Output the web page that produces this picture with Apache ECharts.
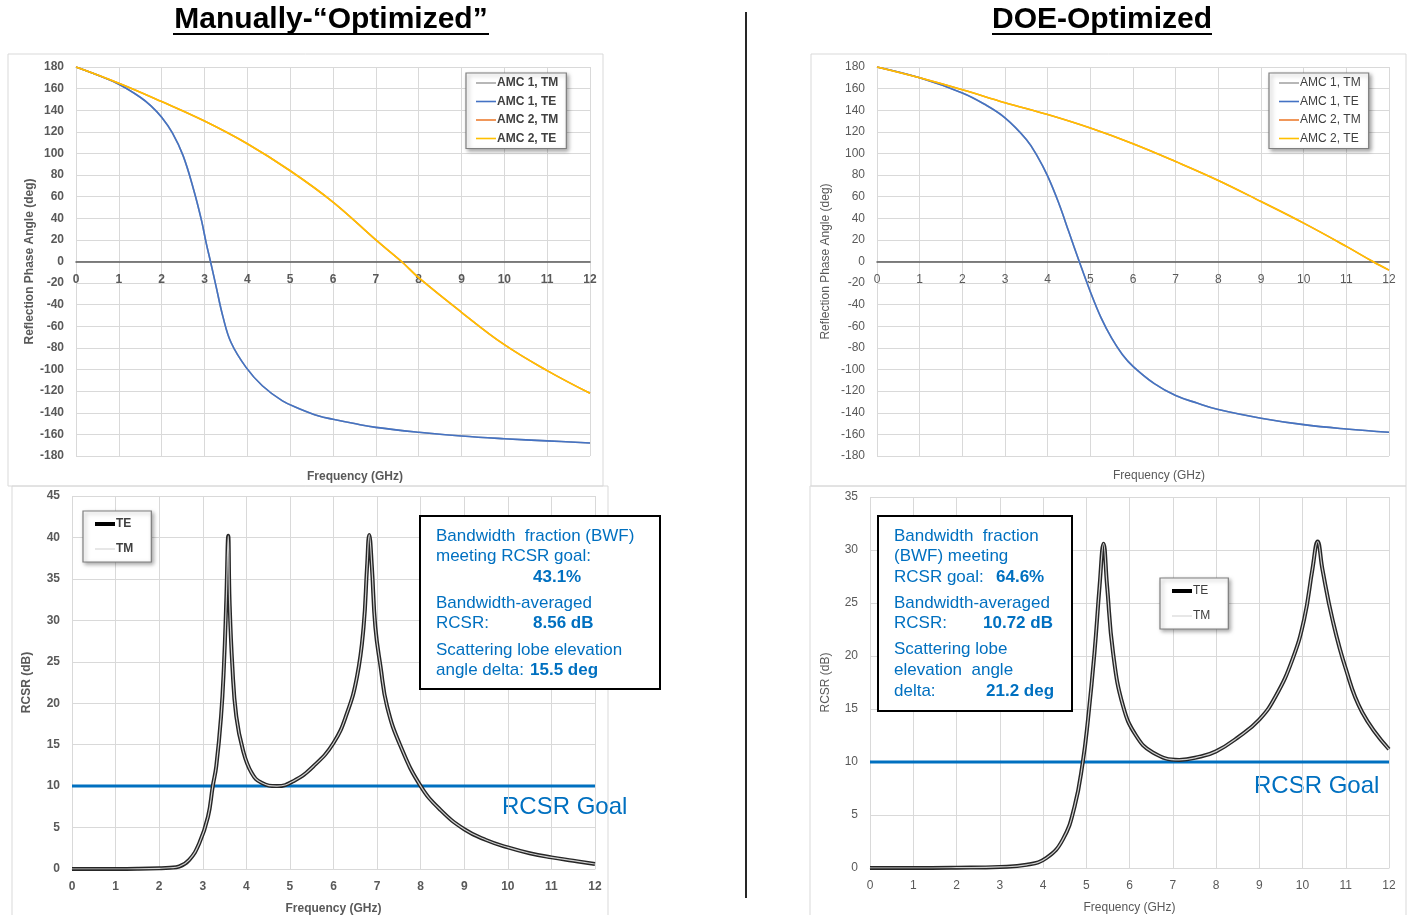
<!DOCTYPE html>
<html>
<head>
<meta charset="utf-8">
<script src="https://cdn.jsdelivr.net/npm/echarts@6/dist/echarts.min.js"></script>
<style>
  html, body { margin: 0; padding: 0; background: #fff; }
  #chart { width: 1414px; height: 915px; }
</style>
</head>
<body>
<div id="chart"></div>
<script>
// Reflection phase (deg) vs frequency (GHz)
const amc1ManualPhase = [[0,180],[0.5,172.5],[1,164],[1.5,152],[1.75,144],[2,133.5],[2.25,119],[2.5,98],[2.75,66],[2.93,38],[3.04,17],[3.14,0],[3.27,-23],[3.43,-51],[3.62,-75],[3.97,-98],[4.35,-115],[4.82,-129],[5.2,-136],[5.67,-143],[6,-146],[6.5,-150],[7,-153.5],[8,-158],[9,-161.5],[10,-164],[11,-166],[12,-168]];
const amc2ManualPhase = [[0,180],[1,165],[2,148],[3,130],[4,109],[5,84],[6,55],[7,20],[7.6,0],[8,-15],[9,-47],[10,-77],[11,-101],[12,-122]];
const amc1DoePhase = [[0,180],[1,170],[2,156],[2.5,146],[3,133],[3.5,113],[3.75,98],[4,79],[4.25,55],[4.5,27],[4.74,0],[5,-28],[5.25,-52],[5.5,-71],[5.75,-86],[6,-97],[6.5,-113],[7,-124],[7.5,-131],[8,-137],[9,-145],[10,-151],[11,-155],[12,-158]];
const amc2DoePhase = [[0,180],[1,170],[2,159],[3,147],[4,136],[5,123.5],[6,109],[7,92.5],[8,75],[9,55.5],[10,35.5],[11,14],[11.62,0],[12,-8]];

// RCSR (dB) vs frequency (GHz)
const rcsrManual = [[0,0],[1,0],[1.5,0.02],[2,0.08],[2.25,0.15],[2.46,0.3],[2.69,1.1],[2.92,3.1],[3.12,6.3],[3.23,10],[3.31,12.4],[3.42,18.4],[3.485,24.4],[3.54,32.4],[3.585,40.2],[3.615,32.4],[3.68,24.4],[3.77,18.4],[3.92,14.4],[4.12,11.6],[4.35,10.4],[4.7,10.0],[5.08,10.6],[5.54,12.4],[6.0,15.2],[6.31,18.8],[6.54,23.2],[6.69,29.2],[6.77,36.5],[6.82,40.3],[6.88,36.5],[6.96,29.2],[7.08,24.4],[7.23,19.6],[7.54,14.8],[8.0,10],[8.46,7.1],[9,4.8],[9.5,3.5],[10,2.6],[10.5,1.9],[11,1.4],[11.5,1.0],[12,0.6]];
const rcsrDoe = [[0,0],[1,0],[2,0.03],[3,0.1],[3.62,0.3],[4.08,0.95],[4.46,2.7],[4.73,5.8],[4.92,10],[5.04,14],[5.19,20.3],[5.31,26.7],[5.4,30.6],[5.48,26.7],[5.62,20.3],[5.85,15.3],[6.15,12.5],[6.54,10.9],[7.15,10.2],[7.62,10.5],[8,11],[8.5,12.3],[9,14],[9.38,16.2],[9.77,19.7],[10.04,23.5],[10.23,28.2],[10.35,30.8],[10.46,28.2],[10.69,23.5],[11,18.8],[11.38,14.7],[12,11.2]];
const rcsrGoal = 10;

const phaseNames = ['AMC 1, TM', 'AMC 1, TE', 'AMC 2, TM', 'AMC 2, TE'];
const phaseColors = ['#A5A5A5', '#4472C4', '#ED7D31', '#FFC000'];
const modeNames = ['TE', 'TM'];

const FONT = 'Liberation Sans, Arial, sans-serif';
const GRAY = '#595959';
const GRID = '#d9d9d9';
const BLUE = '#0070C0';

const chart = echarts.init(document.getElementById('chart'));

function xAxisCfg(grid, bold, opts) {
    return Object.assign({
        type: 'value', gridIndex: grid, min: 0, max: 12, interval: 1,
        axisTick: { show: false },
        axisLine: { onZero: false, lineStyle: { color: GRAY, width: 1.5 } },
        axisLabel: { margin: 12, color: GRAY, fontSize: 12, fontWeight: bold ? 'bold' : 'normal', fontFamily: FONT },
        splitLine: { show: true, lineStyle: { color: GRID, width: 1 } },
        nameTextStyle: { color: GRAY, fontSize: 12, fontWeight: bold ? 'bold' : 'normal', fontFamily: FONT }
    }, opts);
}
function yAxisCfg(grid, bold, opts) {
    return Object.assign({
        type: 'value', gridIndex: grid,
        axisTick: { show: false },
        axisLine: { show: false },
        axisLabel: { margin: 12, color: GRAY, fontSize: 12, fontWeight: bold ? 'bold' : 'normal', fontFamily: FONT },
        splitLine: { show: true, lineStyle: { color: GRID, width: 1 } },
        nameLocation: 'middle',
        nameTextStyle: { color: GRAY, fontSize: 12, fontWeight: bold ? 'bold' : 'normal', fontFamily: FONT }
    }, opts);
}

const series = [];
function phaseSeries(grid, amc1, amc2) {
    [amc1, amc1, amc2, amc2].forEach((d, i) => {
        series.push({
            name: phaseNames[i], type: 'line', xAxisIndex: grid, yAxisIndex: grid,
            data: d, symbol: 'none', smooth: 0.4, silent: true,
            lineStyle: { color: phaseColors[i], width: 1.6 }, itemStyle: { color: phaseColors[i] }
        });
    });
}
function rcsrSeries(grid, d) {
    series.push({
        name: 'goal', type: 'line', xAxisIndex: grid, yAxisIndex: grid,
        data: [[0, rcsrGoal], [12, rcsrGoal]], symbol: 'none', silent: true,
        lineStyle: { color: BLUE, width: 3 }
    });
    series.push({
        name: 'TE', type: 'line', xAxisIndex: grid, yAxisIndex: grid,
        data: d, symbol: 'none', smooth: 0.45, silent: true,
        lineStyle: { color: '#262626', width: 4 }, itemStyle: { color: '#000' }
    });
    series.push({
        name: 'TM', type: 'line', xAxisIndex: grid, yAxisIndex: grid,
        data: d, symbol: 'none', smooth: 0.45, silent: true,
        lineStyle: { color: '#cfcfcf', width: 1.2 }, itemStyle: { color: '#cfcfcf' }
    });
}
phaseSeries(0, amc1ManualPhase, amc2ManualPhase);
phaseSeries(1, amc1DoePhase, amc2DoePhase);
rcsrSeries(2, rcsrManual);
rcsrSeries(3, rcsrDoe);

const thinIcon = 'path://M0,0 H20 V1.6 H0 Z';
const phaseLegendData = phaseNames.map(n => ({ name: n, icon: thinIcon }));
const modeLegendData = [
    { name: 'TE', icon: 'path://M0,0 H20 V4 H0 Z' },
    { name: 'TM', icon: 'path://M0,0 H20 V1 H0 Z' }
];

function legendCfg(left, top, data, bold, gap, pad) {
    return {
        left: left, top: top, orient: 'vertical', data: data, selectedMode: false,
        itemWidth: 20, itemHeight: 12, itemGap: gap, padding: pad,
        backgroundColor: '#fff', borderColor: '#7f7f7f', borderWidth: 1.2,
        shadowColor: 'rgba(0,0,0,0.35)', shadowBlur: 4, shadowOffsetX: 2, shadowOffsetY: 2,
        textStyle: { color: '#404040', fontSize: 12, fontWeight: bold ? 'bold' : 'normal', fontFamily: FONT, padding: [0, 0, 0, -4] }
    };
}

function txt(x, y, s, opts) {
    return { type: 'text', x: x, y: y, silent: true,
        style: Object.assign({ text: s, fill: BLUE, font: '17px ' + FONT, verticalAlign: 'middle', align: 'left' }, opts || {}) };
}
const boldInfo = { font: 'bold 17px ' + FONT };

const graphic = [
    // panel frames
    { type: 'rect', shape: { x: 8, y: 54, width: 595, height: 432 }, style: { fill: 'none', stroke: GRID, lineWidth: 1 }, silent: true, z: -1 },
    { type: 'rect', shape: { x: 12, y: 486, width: 596, height: 432 }, style: { fill: 'none', stroke: GRID, lineWidth: 1 }, silent: true, z: -1 },
    { type: 'rect', shape: { x: 811, y: 54, width: 595, height: 432 }, style: { fill: 'none', stroke: GRID, lineWidth: 1 }, silent: true, z: -1 },
    { type: 'rect', shape: { x: 810, y: 486, width: 596, height: 432 }, style: { fill: 'none', stroke: GRID, lineWidth: 1 }, silent: true, z: -1 },
    // divider
    { type: 'line', shape: { x1: 746, y1: 12, x2: 746, y2: 898 }, style: { stroke: '#262626', lineWidth: 2 }, silent: true },
    // titles
    { type: 'text', x: 331, y: 20, silent: true, style: { text: 'Manually-\u201cOptimized\u201d', font: 'bold 30px ' + FONT, fill: '#000', align: 'center', verticalAlign: 'middle' } },
    { type: 'line', shape: { x1: 173, y1: 34, x2: 489, y2: 34 }, style: { stroke: '#000', lineWidth: 2 }, silent: true },
    { type: 'text', x: 1102, y: 20, silent: true, style: { text: 'DOE-Optimized', font: 'bold 30px ' + FONT, fill: '#000', align: 'center', verticalAlign: 'middle' } },
    { type: 'line', shape: { x1: 992, y1: 34, x2: 1212, y2: 34 }, style: { stroke: '#000', lineWidth: 2 }, silent: true },
    // top x axis titles
    { type: 'text', x: 355, y: 477, silent: true, style: { text: 'Frequency (GHz)', font: 'bold 12px ' + FONT, fill: GRAY, align: 'center', verticalAlign: 'middle' } },
    { type: 'text', x: 1159, y: 476, silent: true, style: { text: 'Frequency (GHz)', font: '12px ' + FONT, fill: GRAY, align: 'center', verticalAlign: 'middle' } },
    // info boxes
    { type: 'rect', shape: { x: 420, y: 516, width: 240, height: 173 }, style: { fill: '#fff', stroke: '#000', lineWidth: 2 }, silent: true, z: 10 },
    { type: 'rect', shape: { x: 878, y: 516, width: 194, height: 195 }, style: { fill: '#fff', stroke: '#000', lineWidth: 2 }, silent: true, z: 10 },
    // goal labels
    txt(502, 807, 'RCSR Goal', { font: '24px ' + FONT }),
    txt(1254, 786, 'RCSR Goal', { font: '24px ' + FONT })
];
const infoLines = [
    txt(436, 536, 'Bandwidth  fraction (BWF)'),
    txt(436, 556, 'meeting RCSR goal:'),
    txt(533, 577, '43.1%', boldInfo),
    txt(436, 603, 'Bandwidth-averaged'),
    txt(436, 623, 'RCSR:'),
    txt(533, 623, '8.56 dB', boldInfo),
    txt(436, 650, 'Scattering lobe elevation'),
    txt(436, 670, 'angle delta:'),
    txt(530, 670, '15.5 deg', boldInfo),
    txt(894, 536, 'Bandwidth  fraction'),
    txt(894, 556, '(BWF) meeting'),
    txt(894, 577, 'RCSR goal:'),
    txt(996, 577, '64.6%', boldInfo),
    txt(894, 603, 'Bandwidth-averaged'),
    txt(894, 623, 'RCSR:'),
    txt(983, 623, '10.72 dB', boldInfo),
    txt(894, 649, 'Scattering lobe'),
    txt(894, 670, 'elevation  angle'),
    txt(894, 691, 'delta:'),
    txt(986, 691, '21.2 deg', boldInfo)
];
infoLines.forEach(g => { g.z = 11; graphic.push(g); });

chart.setOption({
    animation: false,
    textStyle: { fontFamily: FONT },
    grid: [
        { left: 76, top: 67, width: 514, height: 389, outerBoundsMode: 'none' },
        { left: 877, top: 67, width: 512, height: 389, outerBoundsMode: 'none' },
        { left: 72, top: 496, width: 523, height: 373, outerBoundsMode: 'none' },
        { left: 870, top: 497, width: 519, height: 371, outerBoundsMode: 'none' }
    ],
    xAxis: [
        // top panels: axis line and labels sit on the 0 deg line
        xAxisCfg(0, true, { offset: -194.5 }),
        xAxisCfg(1, false, { offset: -194.5 }),
        xAxisCfg(2, true, { name: 'Frequency (GHz)', nameLocation: 'middle', nameGap: 34, axisLine: { onZero: false, lineStyle: { color: GRID, width: 1 } } }),
        xAxisCfg(3, false, { name: 'Frequency (GHz)', nameLocation: 'middle', nameGap: 34, axisLine: { onZero: false, lineStyle: { color: GRID, width: 1 } } })
    ],
    yAxis: [
        yAxisCfg(0, true, { min: -180, max: 180, interval: 20, name: 'Reflection Phase Angle (deg)', nameGap: 40 }),
        yAxisCfg(1, false, { min: -180, max: 180, interval: 20, name: 'Reflection Phase Angle (deg)', nameGap: 45 }),
        yAxisCfg(2, true, { min: 0, max: 45, interval: 5, name: 'RCSR (dB)', nameGap: 39 }),
        yAxisCfg(3, false, { min: 0, max: 35, interval: 5, name: 'RCSR (dB)', nameGap: 38 })
    ],
    legend: [
        legendCfg(466, 73, phaseLegendData, true, 6.5, [4, 8, 4, 10]),
        legendCfg(1269, 73, phaseLegendData, false, 6.5, [4, 8, 4, 10]),
        legendCfg(83, 511, modeLegendData, true, 13, [7, 18, 7, 12]),
        legendCfg(1160, 578, modeLegendData, false, 13, [7, 18, 7, 12])
    ],
    series: series,
    graphic: graphic
});
</script>
</body>
</html>
